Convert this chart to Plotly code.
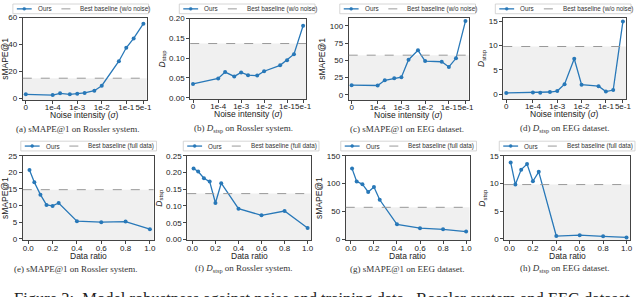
import plotly.graph_objects as go

# ---------------- data ----------------
noise_levels = [0, 1e-4, 2e-4, 5e-4, 1e-3, 2e-3, 5e-3, 1e-2, 5e-2, 1e-1, 2e-1, 5e-1]
noise_tick_values = [0, 1e-4, 1e-3, 1e-2, 1e-1, 5e-1]
noise_tick_labels = ["0", "1e-4", "1e-3", "1e-2", "1e-1", "5e-1"]

data_ratios = [0.01, 0.05, 0.1, 0.15, 0.2, 0.25, 0.4, 0.6, 0.8, 1.0]
data_tick_values = [0.0, 0.2, 0.4, 0.6, 0.8, 1.0]
data_tick_labels = ["0.0", "0.2", "0.4", "0.6", "0.8", "1.0"]

smape_rossler_noise = [2.8, 2.2, 3.5, 2.8, 3.3, 3.8, 5.5, 9.2, 27.5, 37.5, 44.5, 55.5]
dstsp_rossler_noise = [0.035, 0.049, 0.065, 0.054, 0.064, 0.057, 0.056, 0.067, 0.082, 0.095, 0.110, 0.182]
smape_eeg_noise = [14.0, 13.5, 21.0, 24.0, 25.5, 51.0, 64.5, 49.0, 48.0, 40.5, 53.0, 107.0]
dstsp_eeg_noise = [0.30, 0.40, 0.35, 0.50, 0.70, 2.1, 7.3, 2.0, 1.7, 0.6, 0.9, 14.9]

smape_rossler_data = [20.7, 17.0, 13.3, 10.2, 9.9, 10.8, 5.3, 5.0, 5.2, 2.9]
dstsp_rossler_data = [0.212, 0.203, 0.183, 0.173, 0.109, 0.168, 0.092, 0.072, 0.085, 0.034]
smape_eeg_data = [127, 104, 99, 85, 94, 71, 27, 20, 18, 14]
dstsp_eeg_data = [13.8, 9.8, 12.5, 13.5, 10.4, 12.1, 0.5, 0.65, 0.45, 0.25]

baseline_smape_rossler = 14.8
baseline_dstsp_rossler = 0.137
baseline_smape_eeg = 57.5
baseline_dstsp_eeg = 9.8

series_label = "Ours"
baseline_label_noise = "Best baseline (w/o noise)"
baseline_label_data = "Best baseline (full data)"
xtitle_noise = "Noise intensity (<i>σ</i>)"
xtitle_data = "Data ratio"

captions = [
    "(a) sMAPE@1 on Rossler system.",
    "(b) <i>D</i><sub>stsp</sub> on Rossler system.",
    "(c) sMAPE@1 on EEG dataset.",
    "(d) <i>D</i><sub>stsp</sub> on EEG dataset.",
    "(e) sMAPE@1 on Rossler system.",
    "(f) <i>D</i><sub>stsp</sub> on Rossler system.",
    "(g) sMAPE@1 on EEG dataset.",
    "(h) <i>D</i><sub>stsp</sub> on EEG dataset.",
]
figure_caption = "Figure 3:  Model robustness against noise and training data.  Rossler system and EEG dataset."

# ---------------- layout helpers ----------------
W, H = 640, 297
ZERO_POS = 8e-6  # where sigma = 0 is drawn on the log axis

def nx(v):
    return ZERO_POS if v == 0 else v

def X(px):
    return px / W

def Y(py):
    return 1 - py / H

BLUE = "#2878b8"
SMAPE_T = "sMAPE@1"
DSTSP_T = "<i>D</i><sub>stsp</sub>"

panels = [
    dict(px=(23, 148, 14, 99), kind="noise", y=smape_rossler_noise, b=baseline_smape_rossler,
         yr=[-1.7, 60], dt=20, fmt="d", yt=SMAPE_T, lab=baseline_label_noise, cx=79, leg=(13, 0)),
    dict(px=(192, 309, 15, 98), kind="noise", y=dstsp_rossler_noise, b=baseline_dstsp_rossler,
         yr=[-0.004, 0.2], dt=0.05, fmt=".2f", yt=DSTSP_T, lab=baseline_label_noise, cx=246, leg=(181, 0)),
    dict(px=(352, 473, 14, 99), kind="noise", y=smape_eeg_noise, b=baseline_smape_eeg,
         yr=[-8, 112], dt=25, fmt="d", yt=SMAPE_T, lab=baseline_label_noise, cx=411, leg=(343, 0)),
    dict(px=(508, 632, 14, 98), kind="noise", y=dstsp_eeg_noise, b=baseline_dstsp_eeg,
         yr=[-1, 15.7], dt=5, fmt="d", yt=DSTSP_T, lab=baseline_label_noise, cx=570, leg=(500, 0)),
    dict(px=(23, 155, 156, 243), kind="data", y=smape_rossler_data, b=baseline_smape_rossler,
         yr=[-0.5, 25], dt=5, fmt="d", yt=SMAPE_T, lab=baseline_label_data, cx=77, leg=(21, 141)),
    dict(px=(189, 314, 156, 243), kind="data", y=dstsp_rossler_data, b=baseline_dstsp_rossler,
         yr=[-0.003, 0.25], dt=0.05, fmt=".2f", yt=DSTSP_T, lab=baseline_label_data, cx=246, leg=(185, 141)),
    dict(px=(349, 474, 156, 243), kind="data", y=smape_eeg_data, b=baseline_smape_eeg,
         yr=[-2, 150], dt=50, fmt="d", yt=SMAPE_T, lab=baseline_label_data, cx=411, leg=(344, 141)),
    dict(px=(509, 636, 156, 243), kind="data", y=dstsp_eeg_data, b=baseline_dstsp_eeg,
         yr=[-0.3, 15], dt=5, fmt="d", yt=DSTSP_T, lab=baseline_label_data, cx=570, leg=(504, 141)),
]

fig = go.Figure()
layout = dict(
    width=W, height=H, margin=dict(l=0, r=0, t=0, b=0),
    paper_bgcolor="white", plot_bgcolor="white",
    font=dict(family="Liberation Sans, Arial", size=8, color="#222"),
    showlegend=False,
    shapes=[], annotations=[],
)

TEXT_FONT = dict(family="Liberation Sans, Arial", size=8.5, color="#222")
SERIF = dict(family="Liberation Serif, Times New Roman", size=9, color="#333")
LEG_FONT = dict(family="Liberation Sans, Arial", size=6.3, color="#333")

for i, p in enumerate(panels):
    n = i + 1
    sfx = "" if n == 1 else str(n)
    xa, ya = "x" + sfx, "y" + sfx
    x0, x1, yt, yb = p["px"]

    if p["kind"] == "noise":
        xs = [nx(v) for v in noise_levels]
        xaxis = dict(type="log", range=[-5.22, -0.17],
                     tickvals=[nx(v) for v in noise_tick_values], ticktext=noise_tick_labels)
        xtitle = xtitle_noise
    else:
        xs = data_ratios
        xaxis = dict(range=[-0.045, 1.03], tickvals=data_tick_values, ticktext=data_tick_labels)
        xtitle = xtitle_data
    xaxis.update(domain=[X(x0), X(x1)], anchor=ya, showline=True, mirror=True, linecolor="#444",
                 linewidth=1, ticks="outside", ticklen=2.5, tickcolor="#444", showgrid=False,
                 zeroline=False, tickangle=0, ticklabelstandoff=-3,
                 tickfont=dict(size=8, color="#222"))
    yaxis = dict(domain=[Y(yb), Y(yt)], anchor=xa, range=p["yr"], dtick=p["dt"], tick0=0,
                 tickformat=p["fmt"], showline=True, mirror=True, linecolor="#444", linewidth=1,
                 ticks="outside", ticklen=3, tickcolor="#444", showgrid=False, zeroline=False,
                 tickfont=dict(size=8, color="#222"),
                 title=dict(text=p["yt"], font=TEXT_FONT, standoff=2))
    layout["xaxis" + sfx] = xaxis
    layout["yaxis" + sfx] = yaxis

    fig.add_trace(go.Scatter(
        x=xs, y=p["y"], mode="lines+markers", name=series_label,
        line=dict(color=BLUE, width=1.3), marker=dict(color=BLUE, size=4),
        xaxis=xa, yaxis=ya,
    ))

    # x-axis title
    layout["annotations"].append(dict(
        text=xtitle, x=0.5, y=Y(yb + 15.5), xref=xa + " domain", yref="paper",
        xanchor="center", yanchor="middle", showarrow=False, font=TEXT_FONT))

    # shaded area below the best baseline and the baseline itself
    layout["shapes"].append(dict(
        type="rect", xref=xa + " domain", yref=ya, x0=0, x1=1, y0=p["yr"][0], y1=p["b"],
        fillcolor="#f0f0f0", line=dict(width=0), layer="below"))
    layout["shapes"].append(dict(
        type="line", xref=xa + " domain", yref=ya, x0=0, x1=1, y0=p["b"], y1=p["b"],
        line=dict(color="#999999", width=1, dash="dash"), layer="above"))

    # legend box (drawn in paper space)
    lx, ly = p["leg"]
    lw, lh = 137, 10
    ymid = ly + lh / 2
    layout["shapes"].append(dict(
        type="rect", xref="paper", yref="paper", x0=X(lx), x1=X(lx + lw), y0=Y(ly + lh), y1=Y(ly),
        fillcolor="white", line=dict(color="#cccccc", width=0.8), layer="above"))
    layout["shapes"].append(dict(
        type="line", xref="paper", yref="paper", x0=X(lx + 4), x1=X(lx + 19), y0=Y(ymid), y1=Y(ymid),
        line=dict(color=BLUE, width=1.3), layer="above"))
    layout["shapes"].append(dict(
        type="circle", xref="paper", yref="paper", x0=X(lx + 10), x1=X(lx + 13),
        y0=Y(ymid + 1.5), y1=Y(ymid - 1.5), fillcolor=BLUE, line=dict(color=BLUE, width=0.5),
        layer="above"))
    layout["shapes"].append(dict(
        type="line", xref="paper", yref="paper", x0=X(lx + 49), x1=X(lx + 62), y0=Y(ymid), y1=Y(ymid),
        line=dict(color="#999999", width=1, dash="dash"), layer="above"))
    layout["annotations"].append(dict(
        text=series_label, x=X(lx + 23), y=Y(ymid), xref="paper", yref="paper",
        xanchor="left", yanchor="middle", showarrow=False, font=LEG_FONT))
    layout["annotations"].append(dict(
        text=p["lab"], x=X(lx + 66), y=Y(ymid), xref="paper", yref="paper",
        xanchor="left", yanchor="middle", showarrow=False, font=LEG_FONT))

    cy = 128 if i < 4 else 272
    layout["annotations"].append(dict(
        text=captions[i], x=X(p["cx"]), y=Y(cy), xref="paper", yref="paper",
        xanchor="center", yanchor="middle", showarrow=False, font=SERIF))

layout["annotations"].append(dict(
    text=figure_caption, x=X(12), y=Y(291), xref="paper", yref="paper",
    xanchor="left", yanchor="top", showarrow=False,
    font=dict(family="Liberation Serif, Times New Roman", size=16.5, color="#222")))

fig.update_layout(**layout)
fig.write_html("out.html", post_script="document.body.style.margin='0';",
               config={"displayModeBar": False})
